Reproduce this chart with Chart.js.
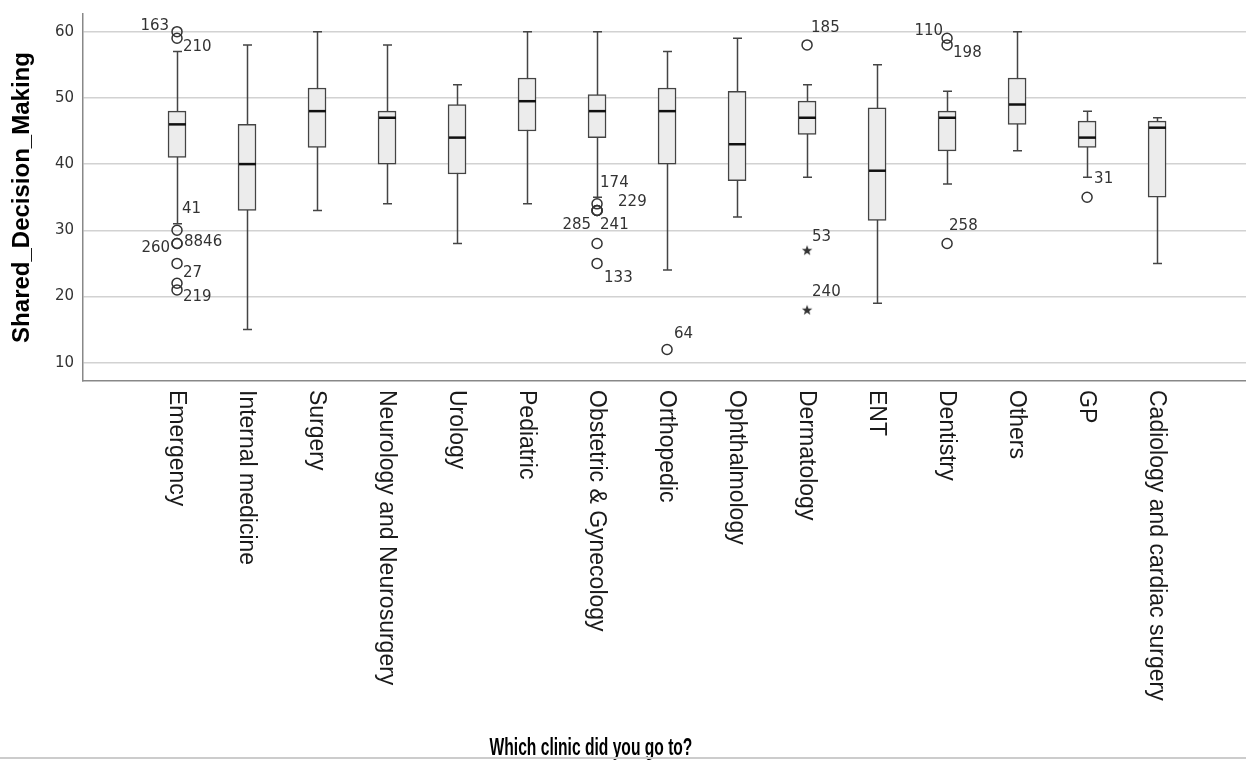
<!DOCTYPE html>
<html>
<head>
<meta charset="utf-8">
<script src="https://cdn.jsdelivr.net/npm/chart.js@4.4.1/dist/chart.umd.min.js"></script>
<style>
  html, body { margin: 0; padding: 0; background: #fff; }
  #wrap { width: 1246px; height: 761px; position: relative; }
</style>
</head>
<body>
<div id="wrap"><canvas id="boxChart"></canvas></div>
<script>
// Data (SPSS boxplot)
const clinics = ['Emergency', 'Internal medicine', 'Surgery', 'Neurology and Neurosurgery', 'Urology',
    'Pediatric', 'Obstetric & Gynecology', 'Orthopedic', 'Ophthalmology', 'Dermatology', 'ENT',
    'Dentistry', 'Others', 'GP', 'Cadiology and cardiac surgery'];
const whiskerLow  = [31, 15, 33, 34, 28, 34, 35, 24, 32, 38, 19, 37, 42, 38, 25];
const q1          = [41, 33, 42.5, 40, 38.5, 45, 44, 40, 37.5, 44.5, 31.5, 42, 46, 42.5, 35];
const median      = [46, 40, 48, 47, 44, 49.5, 48, 48, 43, 47, 39, 47, 49, 44, 45.5];
const q3          = [48, 46, 51.5, 48, 49, 53, 50.5, 51.5, 51, 49.5, 48.5, 48, 53, 46.5, 46.5];
const whiskerHigh = [57, 58, 60, 58, 52, 60, 60, 57, 59, 52, 55, 51, 60, 48, 47];

// outliers: [clinic index, value, case label]
const outliers = [
    [0, 60, '163'], [0, 59, '210'], [0, 30, '41'], [0, 28, '260'], [0, 28, '8846'],
    [0, 25, '27'], [0, 22, ''], [0, 21, '219'],
    [6, 34, '174'], [6, 33, '229'], [6, 33, '285'], [6, 33, '241'], [6, 28, ''], [6, 25, '133'],
    [7, 12, '64'],
    [9, 58, '185'],
    [11, 59, '110'], [11, 58, '198'], [11, 28, '258'],
    [13, 35, '31']
];
// extreme values (stars)
const extremes = [[9, 27, '53'], [9, 18, '240']];

const yTicks = [10, 20, 30, 40, 50, 60];
const yTitle = 'Shared_Decision_Making';
const xTitle = 'Which clinic did you go to?';

// where each case label sits relative to its point
const labelPos = {
    '163': ['right', -8, -6], '210': ['left', 6, 9], '41': ['left', 5, -21],
    '260': ['right', -7, 5], '8846': ['left', 7, -1], '27': ['left', 6, 10], '219': ['left', 6, 7],
    '174': ['left', 3, -21], '229': ['left', 21, -8], '285': ['right', -6, 15], '241': ['left', 3, 15],
    '133': ['left', 7, 15], '64': ['left', 7, -15], '185': ['left', 4, -17],
    '53': ['left', 5, -13], '240': ['left', 5, -18], '110': ['right', -4, -7],
    '198': ['left', 6, 8], '258': ['left', 2, -17], '31': ['left', 7, -18]
};

// filled five-point star for extreme values
function makeStar() {
    const c = document.createElement('canvas');
    c.width = 12; c.height = 12;
    const g = c.getContext('2d');
    g.fillStyle = '#333';
    g.beginPath();
    for (let k = 0; k < 10; k++) {
        const r = k % 2 === 0 ? 5.5 : 2.3;
        const a = -Math.PI / 2 + k * Math.PI / 5;
        g.lineTo(6 + r * Math.cos(a), 6.5 + r * Math.sin(a));
    }
    g.closePath();
    g.fill();
    return c;
}

const boxPlugin = {
    id: 'boxParts',
    beforeDatasetsDraw(chart) {
        const ctx = chart.ctx, xs = chart.scales.x, ys = chart.scales.y;
        ctx.save();
        ctx.strokeStyle = '#444';
        ctx.lineWidth = 1.5;
        clinics.forEach((c, i) => {
            const x = Math.round(xs.getPixelForValue(i)) + 0.5;
            const lo = ys.getPixelForValue(whiskerLow[i]);
            const hi = ys.getPixelForValue(whiskerHigh[i]);
            ctx.beginPath();
            ctx.moveTo(x, lo); ctx.lineTo(x, hi);
            ctx.moveTo(x - 4.5, lo); ctx.lineTo(x + 4.5, lo);
            ctx.moveTo(x - 4.5, hi); ctx.lineTo(x + 4.5, hi);
            ctx.stroke();
        });
        ctx.restore();
    },
    afterDatasetDraw(chart, args) {
        if (args.index !== 0) return;
        const ctx = chart.ctx, xs = chart.scales.x, ys = chart.scales.y;
        ctx.save();
        ctx.strokeStyle = '#111';
        ctx.lineWidth = 2.5;
        median.forEach((m, i) => {
            const x = Math.round(xs.getPixelForValue(i)) + 0.5;
            const y = ys.getPixelForValue(m);
            ctx.beginPath();
            ctx.moveTo(x - 8.5, y); ctx.lineTo(x + 8.5, y);
            ctx.stroke();
        });
        ctx.restore();
    },
    afterDraw(chart) {
        const ctx = chart.ctx, xs = chart.scales.x, ys = chart.scales.y;
        ctx.save();
        // case labels
        ctx.font = '15px "DejaVu Sans"';
        ctx.fillStyle = '#333';
        ctx.textBaseline = 'middle';
        outliers.concat(extremes).forEach(([i, v, lab]) => {
            if (!lab) return;
            const p = labelPos[lab];
            ctx.textAlign = p[0];
            ctx.fillText(lab, xs.getPixelForValue(i) + p[1], ys.getPixelForValue(v) + p[2]);
        });
        // category labels, reading top to bottom
        ctx.font = '23px "Liberation Sans", Arial, sans-serif';
        ctx.fillStyle = '#1a1a1a';
        ctx.textAlign = 'left';
        clinics.forEach((c, i) => {
            ctx.save();
            ctx.translate(xs.getPixelForValue(i) - 1, chart.chartArea.bottom + 9);
            ctx.rotate(Math.PI / 2);
            ctx.fillText(c, 0, 0);
            ctx.restore();
        });
        // x axis title (condensed, like the original)
        ctx.font = 'bold 24px "Liberation Sans", Arial, sans-serif';
        ctx.fillStyle = '#000';
        ctx.textAlign = 'center';
        ctx.textBaseline = 'alphabetic';
        ctx.save();
        ctx.translate(591, 755);
        ctx.scale(0.65, 1);
        ctx.fillText(xTitle, 0, 0);
        ctx.restore();
        // frame line at the bottom
        ctx.strokeStyle = '#ccc';
        ctx.lineWidth = 2;
        ctx.beginPath();
        ctx.moveTo(0, 758); ctx.lineTo(chart.width, 758);
        ctx.stroke();
        ctx.restore();
    }
};

new Chart(document.getElementById('boxChart'), {
    type: 'bar',
    data: {
        datasets: [
            {
                label: 'box',
                data: clinics.map((c, i) => ({ x: i, y: [q1[i], q3[i]] })),
                backgroundColor: '#ececec',
                borderColor: '#444',
                borderWidth: 1.5,
                borderSkipped: false,
                barThickness: 18,
                grouped: false
            },
            {
                type: 'scatter',
                label: 'outliers',
                data: outliers.map(o => ({ x: o[0], y: o[1] })),
                pointStyle: 'circle',
                pointRadius: 5,
                borderWidth: 1.5,
                borderColor: '#333',
                backgroundColor: 'rgba(0,0,0,0)'
            },
            {
                type: 'scatter',
                label: 'extremes',
                data: extremes.map(o => ({ x: o[0], y: o[1] })),
                pointStyle: makeStar(),
                pointRadius: 6
            }
        ]
    },
    options: {
        responsive: true,
        maintainAspectRatio: false,
        animation: false,
        devicePixelRatio: 1,
        layout: { autoPadding: false, padding: { top: 14, right: 0, left: 0, bottom: 0 } },
        plugins: { legend: { display: false }, tooltip: { enabled: false } },
        scales: {
            x: {
                type: 'linear',
                offset: false,
                min: -1.343,
                max: 15.27,
                grid: { display: false },
                ticks: { display: false },
                border: { color: '#888', width: 1.5 },
                afterFit(scale) {
                    scale.height = 380;
                    scale.paddingLeft = 0; scale.paddingRight = 0;
                }
            },
            y: {
                min: 7.24,
                max: 62.67,
                afterBuildTicks(scale) { scale.ticks = yTicks.map(v => ({ value: v })); },
                ticks: {
                    includeBounds: false,
                    padding: 9,
                    color: '#333',
                    font: { family: 'DejaVu Sans', size: 15 }
                },
                grid: { color: '#d2d2d2', lineWidth: 1.5, drawTicks: false },
                border: { color: '#888', width: 1.5 },
                title: {
                    display: true,
                    text: yTitle,
                    color: '#000',
                    font: { family: 'Liberation Sans', size: 24, weight: 'bold' },
                    padding: { top: 8, bottom: 0 }
                },
                afterFit(scale) {
                    scale.width = 83;
                    scale.paddingTop = 0; scale.paddingBottom = 0;
                }
            }
        }
    },
    plugins: [boxPlugin]
});
</script>
</body>
</html>
